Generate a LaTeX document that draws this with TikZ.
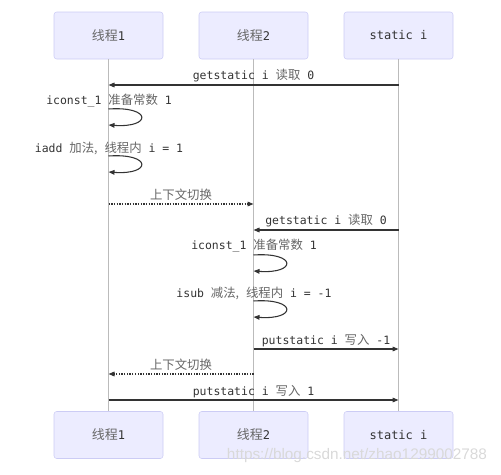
\documentclass[tikz,border=0pt]{standalone}
\usepackage{fontspec}
\setmonofont{DejaVu Sans Mono}
\newfontfamily\cjk[Scale=1.08]{Noto Sans CJK SC}
\newfontfamily\wmfont{Liberation Sans}
\usetikzlibrary{arrows.meta}
\definecolor{boxfill}{HTML}{ECECFF}
\definecolor{boxline}{HTML}{CCCCF5}
\definecolor{txt}{HTML}{333333}
\definecolor{zhtxt}{HTML}{666666}
\definecolor{lifec}{HTML}{BBBBBB}
\newcommand\zh[1]{{\cjk\color{zhtxt}#1}}
\begin{document}
\begin{tikzpicture}[x=0.75pt,y=-0.75pt,
  actor/.style={draw=boxline,fill=boxfill,rounded corners=2pt,minimum width=81.75pt,minimum height=35.25pt,inner sep=0pt,font=\ttfamily\fontsize{9}{10}\selectfont,text=txt},
  life/.style={draw=lifec,line width=0.6pt},
  msg/.style={draw=txt,line width=0.8pt,-{Triangle[length=4.5pt,width=3.5pt]}},
  ret/.style={msg,dash pattern=on 1pt off 1pt},
  lbl/.style={font=\ttfamily\fontsize{8.6}{10}\selectfont,text=txt,inner sep=1pt}]
\useasboundingbox (0,0) rectangle (501,475);
% actors
\node[actor] (t1) at (108.5,35.5) {\zh{线程}1};
\node[actor] (t2) at (253.5,35.5) {\zh{线程}2};
\node[actor] (t3) at (398.5,35.5) {static i};
\node[actor] (b1) at (108.5,435) {\zh{线程}1};
\node[actor] (b2) at (253.5,435) {\zh{线程}2};
\node[actor] (b3) at (398.5,435) {static i};
% lifelines
\draw[life] (t1) -- (b1);
\draw[life] (t2) -- (b2);
\draw[life] (t3) -- (b3);
% message end points
\coordinate (a1) at (398.5,85);  \coordinate (a2) at (108.5,85);
\coordinate (l1a) at (108.5,109); \coordinate (l1b) at (108.5,125);
\coordinate (l2a) at (108.5,156); \coordinate (l2b) at (108.5,172);
\coordinate (c1) at (108.5,204); \coordinate (c2) at (253.5,204);
\coordinate (d1) at (398.5,230); \coordinate (d2) at (253.5,230);
\coordinate (l3a) at (253.5,255); \coordinate (l3b) at (253.5,271);
\coordinate (l4a) at (253.5,301); \coordinate (l4b) at (253.5,317);
\coordinate (e1) at (253.5,349); \coordinate (e2) at (398.5,349);
\coordinate (f1) at (253.5,374); \coordinate (f2) at (108.5,374);
\coordinate (g1) at (108.5,400); \coordinate (g2) at (398.5,400);
% messages
\draw[msg] (a1) -- (a2);
\node[lbl] (n1) at (253.5,76) {getstatic i \zh{读取} 0};
\node[lbl] (n2) at (109,101) {iconst\_1 \zh{准备常数} 1};
\draw[msg] (l1a) .. controls (152,106) and (152,128) .. (l1b);
\node[lbl] (n3) at (109,148) {iadd \zh{加法,} \zh{线程内} i = 1};
\draw[msg] (l2a) .. controls (152,153) and (152,175) .. (l2b);
\draw[ret] (c1) -- (c2);
\node[lbl] (n4) at (181,195) {\zh{上下文切换}};
\draw[msg] (d1) -- (d2);
\node[lbl] (n5) at (326,221) {getstatic i \zh{读取} 0};
\node[lbl] (n6) at (254,246) {iconst\_1 \zh{准备常数} 1};
\draw[msg] (l3a) .. controls (297,252) and (297,274) .. (l3b);
\node[lbl] (n7) at (254,293) {isub \zh{减法,} \zh{线程内} i = -1};
\draw[msg] (l4a) .. controls (297,298) and (297,320) .. (l4b);
\draw[msg] (e1) -- (e2);
\node[lbl] (n8) at (326,341) {putstatic i \zh{写入} -1};
\draw[ret] (f1) -- (f2);
\node[lbl] (n9) at (181,365) {\zh{上下文切换}};
\draw[msg] (g1) -- (g2);
\node[lbl] (n10) at (253.5,392) {putstatic i \zh{写入} 1};
% watermark
\node[font=\wmfont\fontsize{11.5}{12}\selectfont,text=gray!30,inner sep=0pt] (wm) at (357,456) {https://blog.csdn.net/zhao1299002788};
\end{tikzpicture}
\end{document}
